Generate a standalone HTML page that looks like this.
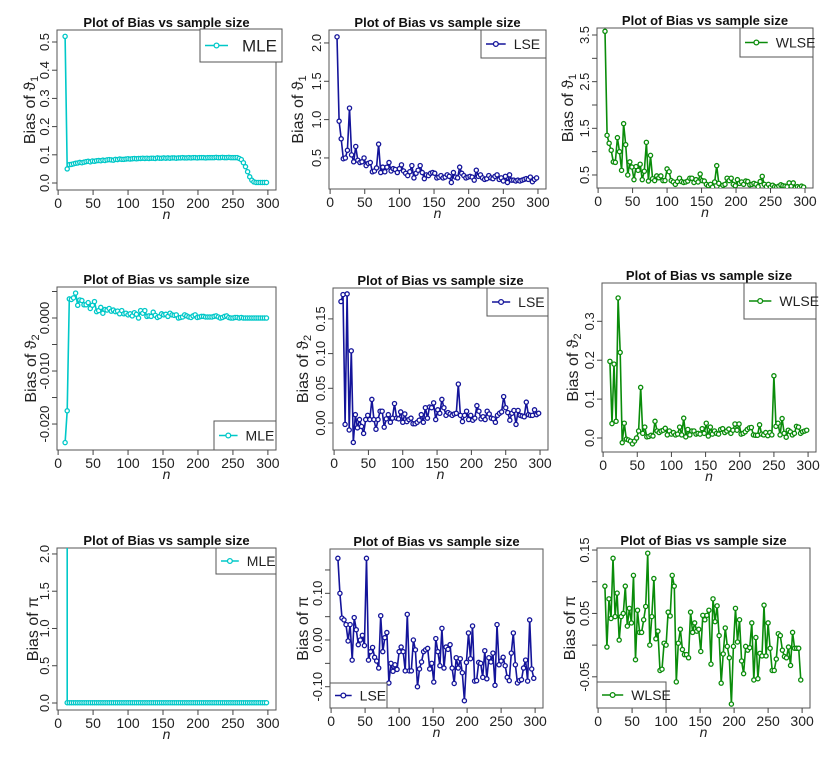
<!DOCTYPE html>
<html><head><meta charset="utf-8"><style>
html,body{margin:0;padding:0;background:#fff;}
svg{display:block;font-family:"Liberation Sans",sans-serif;}
</style></head><body>
<svg id="fig" width="840" height="758" viewBox="0 0 840 758"></svg>
<script>
const sampleSizes=[10,13,16,19,22,25,28,31,34,37,
40,43,46,49,52,55,58,61,64,67,
70,73,76,79,82,85,88,91,94,97,
100,103,106,109,112,115,118,121,124,127,
130,133,136,139,142,145,148,151,154,157,
160,163,166,169,172,175,178,181,184,187,
190,193,196,199,202,205,208,211,214,217,
220,223,226,229,232,235,238,241,244,247,
250,253,256,259,262,265,268,271,274,277,
280,283,286,289,292,295,298];
const mleTheta1=[.52,.05,.065,.066,.068,.07,.071,.073,.072,.074,
.076,.077,.075,.078,.077,.079,.08,.079,.081,.08,
.082,.083,.082,.081,.084,.083,.085,.084,.084,.085,
.086,.085,.086,.087,.086,.087,.087,.088,.087,.088,
.087,.088,.088,.087,.089,.088,.088,.089,.088,.089,
.088,.089,.089,.088,.089,.089,.09,.089,.089,.09,
.089,.09,.09,.089,.09,.09,.09,.089,.09,.09,
.09,.09,.091,.09,.09,.091,.09,.09,.091,.09,
.09,.09,.09,.087,.083,.072,.058,.04,.022,.01,
.004,.002,.002,.002,.002,.002,.002];
const lseTheta1=[2.08,.98,.75,.49,.5,.6,1.15,.54,.45,.65,
.47,.44,.45,.5,.4,.43,.44,.32,.33,.37,
.68,.31,.38,.32,.38,.44,.33,.36,.35,.31,
.36,.41,.33,.3,.27,.32,.4,.24,.3,.34,
.4,.31,.23,.28,.27,.3,.31,.3,.24,.25,
.27,.24,.25,.28,.26,.18,.31,.25,.24,.38,
.3,.27,.24,.25,.26,.25,.21,.34,.26,.28,
.24,.22,.23,.27,.24,.23,.26,.28,.22,.24,
.2,.26,.18,.28,.21,.21,.2,.21,.2,.21,
.22,.23,.22,.25,.19,.22,.24];
const wlseTheta1=[3.58,1.35,1.18,1.03,.78,.77,1.3,1.0,.6,1.6,
1.15,.5,.78,.67,.4,.68,.6,.73,.4,.58,
1.2,.37,.92,.42,.38,.48,.44,.48,.38,.38,
.63,.57,.38,.35,.3,.36,.43,.36,.34,.35,
.37,.43,.43,.34,.4,.35,.52,.38,.37,.3,
.27,.3,.24,.35,.7,.32,.23,.28,.3,.43,
.38,.43,.3,.27,.4,.32,.35,.3,.37,.36,
.29,.3,.32,.3,.25,.36,.47,.3,.25,.3,
.24,.28,.25,.24,.26,.29,.27,.26,.25,.33,
.26,.33,.23,.25,.23,.26,.24];
const mleTheta2=[-.0235,-.0175,.0036,.0035,.0038,.0047,.0024,.0034,.0033,.0025,
.0025,.0029,.0018,.0024,.0031,.0012,.0014,.002,.0009,.0016,
.0015,.0018,.0013,.0015,.0012,.0013,.0008,.0014,.0008,.0009,
.0006,.0008,.0004,.001,.0007,.0,.0014,.0009,.0014,.0003,
.0004,.0003,.0011,.0005,.0001,.0003,.0008,.0006,.0007,.0003,
.0009,.0006,.0005,.0006,.0,.0001,.0002,.0006,.0004,.0002,
.0001,.0004,.0006,.0001,.0002,.0003,.0003,.0002,.0002,.0002,
.0002,.0003,.0004,.0002,.0,.0001,.0003,.0004,.0001,.0,
.0,.0001,.0001,.0,.0001,.0,.0,.0,.0,.0,
.0,.0,.0,.0,.0,.0,.0];
const lseTheta2=[.175,.185,-.002,.186,-.01,.104,-.028,.012,-.007,.005,
-.005,-.015,.005,.011,.005,.034,.005,-.009,.005,.017,
.017,-.006,.006,.012,.001,.007,.028,.007,.006,.016,
.001,.013,.002,.005,.007,-.001,-.001,.001,.004,.012,
.001,.022,.007,.023,.022,.029,.005,.019,.014,.034,
.022,.011,.015,.013,.011,.013,.014,.056,.011,.002,
.011,.017,.005,.011,.004,.007,.025,.017,.006,.009,
.005,.017,.013,.007,.006,.001,.011,.014,.016,.038,
.022,.015,.004,.014,.018,-.002,.018,.011,.01,.009,
.03,.012,.011,.011,.019,.012,.014];
const wlseTheta2=[.197,.037,.19,.043,.36,.22,-.012,.038,-.003,-.005,
-.008,-.015,-.008,.0,.018,.13,.012,.028,.003,.004,
.007,.005,.043,.018,.014,.018,.02,.025,.008,.018,
.01,.014,.008,.01,.028,.008,.051,.003,.022,.008,
.018,.018,.01,.012,.01,.024,.012,.038,.005,.028,
.01,.018,.012,.01,.022,.024,.014,.018,.023,.012,
.02,.036,.02,.036,.01,.012,.016,.022,.026,.027,
.008,.007,.007,.034,.01,.008,.014,.006,.014,.008,
.16,.03,.038,.008,.05,.012,.002,.02,.016,.008,
.012,.03,.028,.012,.016,.018,.02];
const mlePi=[500,.004,.004,.004,.004,.004,.004,.004,.004,.004,
.004,.004,.004,.004,.004,.004,.004,.004,.004,.004,
.004,.004,.004,.004,.004,.004,.004,.004,.004,.004,
.004,.004,.004,.004,.004,.004,.004,.004,.004,.004,
.004,.004,.004,.004,.004,.004,.004,.004,.004,.004,
.004,.004,.004,.004,.004,.004,.004,.004,.004,.004,
.004,.004,.004,.004,.004,.004,.004,.004,.004,.004,
.004,.004,.004,.004,.004,.004,.004,.004,.004,.004,
.004,.004,.004,.004,.004,.004,.004,.004,.004,.004,
.004,.004,.004,.004,.004,.004,.004];
const lsePi=[.175,.1,.047,.043,.033,-.002,.033,-.043,.048,.022,
-.01,.0,.01,-.012,.175,-.043,-.025,-.016,-.037,-.045,
-.06,.052,-.025,.005,.016,-.092,-.05,-.067,-.053,-.063,
-.025,-.015,-.025,-.066,.055,-.066,-.066,.0,-.021,-.1,
-.062,-.047,-.025,-.021,-.018,-.062,-.05,-.09,.003,-.025,
-.055,.025,-.06,-.015,-.02,-.01,-.06,-.093,-.038,-.06,
-.04,-.07,-.13,-.048,.015,-.04,.03,-.088,-.087,-.048,
-.05,-.08,-.023,-.083,-.038,-.047,-.028,-.097,.033,-.053,
-.045,-.037,-.055,-.08,-.087,-.028,.015,-.053,-.092,-.087,
-.085,-.06,-.043,-.088,.043,-.062,-.082];
const wlsePi=[.093,-.003,.073,.042,.137,.045,.082,.008,.045,.05,
.093,.03,.058,.035,.11,-.023,.055,.02,.02,.04,
.061,.145,.0,.045,.105,.01,.022,-.04,-.038,.003,
.0,.052,.046,.11,.093,-.058,.003,.025,-.007,-.015,
-.015,-.02,.052,.02,.035,.022,.025,-.01,.047,.04,
.047,.055,-.03,.073,.037,.062,.015,-.06,-.014,.027,
-.002,-.02,-.093,-.002,.058,.005,.04,-.025,-.045,-.002,
-.008,-.004,.035,-.055,.012,-.053,-.013,-.017,.063,-.017,
.035,-.005,-.04,-.04,-.022,.018,.015,-.008,-.018,-.02,
-.003,-.032,.02,-.005,-.005,-.005,-.055];
const xTicks=[0,50,100,150,200,250,300];

const CY="#00c8c8",BL="#14149a",GR="#0a8c0a";
const panels=[
 {id:"mle-theta1",series:mleTheta1,col:CY,l:57,r:276,t:30,b:190,y0:-0.0248,y1:0.5426,yt:[0,.1,.2,.3,.4,.5],yl:["0.0","0.1","0.2","0.3","0.4","0.5"],sub:"1",sym:"ϑ",ytx:32,leg:[200,29,282,62],lab:"MLE",fs:17},
 {id:"lse-theta1",series:lseTheta1,col:BL,l:329,r:546,t:30,b:189,y0:0.095,y1:2.169,yt:[.5,1,1.5,2],yl:["0.5","1.0","1.5","2.0"],sub:"1",sym:"ϑ",ytx:300,leg:[481,30,546,58],lab:"LSE",fs:14},
 {id:"wlse-theta1",series:wlseTheta1,col:GR,l:597,r:813,t:28,b:188,y0:0.221,y1:3.65,yt:[.5,1,1.5,2,2.5,3,3.5],yl:["0.5","","1.5","","2.5","","3.5"],sub:"1",sym:"ϑ",ytx:570,leg:[740,28,813,57],lab:"WLSE",fs:14},
 {id:"mle-theta2",series:mleTheta2,col:CY,l:57,r:276,t:287,b:450,y0:-0.0249,y1:0.00585,yt:[-.02,-.015,-.01,-.005,0,.005],yl:["-0.020","","-0.010","","0.000",""],sub:"2",sym:"ϑ",ytx:33,leg:[214,421,276,450],lab:"MLE",fs:14},
 {id:"lse-theta2",series:lseTheta2,col:BL,l:333,r:548,t:288,b:450,y0:-0.0389,y1:0.1945,yt:[0,.05,.1,.15],yl:["0.00","0.05","0.10","0.15"],sub:"2",sym:"ϑ",ytx:305,leg:[487,288,548,316],lab:"LSE",fs:14},
 {id:"wlse-theta2",series:wlseTheta2,col:GR,l:602,r:816,t:283,b:452,y0:-0.036,y1:0.3985,yt:[0,.1,.2,.3],yl:["0.0","0.1","0.2","0.3"],sub:"2",sym:"ϑ",ytx:575,leg:[744,283,816,319],lab:"WLSE",fs:14},
 {id:"mle-pi",series:mlePi,col:CY,l:57,r:276,t:548,b:710,y0:-0.094,y1:2.08,yt:[0,.5,1,1.5,2],yl:["0.0","0.5","1.0","1.5","2.0"],sub:"",sym:"π",ytx:35,leg:[216,548,276,574],lab:"MLE",fs:14},
 {id:"lse-pi",series:lsePi,col:BL,l:330,r:543,t:549,b:708,y0:-0.1456,y1:0.1949,yt:[-.1,-.05,0,.05,.1,.15],yl:["-0.10","","0.00","","0.10",""],sub:"",sym:"π",ytx:305,leg:[330,683,387,708],lab:"LSE",fs:14},
 {id:"wlse-pi",series:wlsePi,col:GR,l:597,r:810,t:548,b:708,y0:-0.0992,y1:0.1532,yt:[-.05,0,.05,.1,.15],yl:["-0.05","","0.05","","0.15"],sub:"",sym:"π",ytx:572,leg:[597,682,666,708],lab:"WLSE",fs:14}
];
const NS="http://www.w3.org/2000/svg";
const svg=document.getElementById("fig");
function mk(tag,attrs,parent){const e=document.createElementNS(NS,tag);for(const k in attrs)e.setAttribute(k,attrs[k]);(parent||svg).appendChild(e);return e;}
panels.forEach((p,pi)=>{
  const g=mk("g",{});
  
  
  const xs=v=>p.l+(v+1.6)/313.2*(p.r-p.l);
  const ys=v=>p.b-(v-p.y0)/(p.y1-p.y0)*(p.b-p.t);
  const cp=mk("clipPath",{id:"cp"+pi},g);
  mk("rect",{x:p.l,y:p.t,width:p.r-p.l,height:p.b-p.t},cp);
  const title=mk("text",{x:(p.l+p.r)/2,y:p.t-3,"text-anchor":"middle","font-size":"13","font-weight":"bold",fill:"#111"},g);
  title.textContent="Plot of Bias vs sample size";
  
  
  const fr=mk("rect",{x:p.l,y:p.t,width:p.r-p.l,height:p.b-p.t,fill:"none",stroke:"#555","stroke-width":"1"},g);
  
  
  const xa=mk("g",{},g);
  
  
  xTicks.forEach(t=>{
    const x=xs(t);
    mk("line",{x1:x,x2:x,y1:p.b,y2:p.b+5,stroke:"#444"},xa);
    const tx=mk("text",{x:x,y:p.b+18,"text-anchor":"middle","font-size":"14",fill:"#222"},xa);
    tx.textContent=t;
    
    
  });
  const xt=mk("text",{x:(p.l+p.r)/2,y:p.b+29,"text-anchor":"middle","font-size":"14","font-style":"italic",fill:"#222"},g);
  xt.textContent="n";
  
  
  const ya=mk("g",{},g);
  
  
  p.yt.forEach((t,i)=>{
    const y=ys(t);
    mk("line",{x1:p.l-5,x2:p.l,y1:y,y2:y,stroke:"#444"},ya);
    if(p.yl[i]){
      const tx=mk("text",{x:p.l-8,y:y,"text-anchor":"middle","font-size":"13",fill:"#222",transform:`rotate(-90 ${p.l-8} ${y})`},ya);
      tx.textContent=p.yl[i];
      
      
    }
  });
  const cy=(p.t+p.b)/2;
  const yt=mk("text",{x:p.ytx+3,y:cy,"text-anchor":"middle","font-size":"16",fill:"#222",transform:`rotate(-90 ${p.ytx+3} ${cy})`},g);
  
  
  yt.appendChild(document.createTextNode("Bias of "+p.sym));
  if(p.sub){const s=mk("tspan",{"font-size":"11",dy:"3"},yt);s.textContent=p.sub;}
  const dg=mk("g",{"clip-path":`url(#cp${pi})`},g);
  
  
  const n=Math.min(sampleSizes.length,p.series.length);
  let d="";
  for(let i=0;i<n;i++){d+=(i?"L":"M")+xs(sampleSizes[i]).toFixed(1)+","+ys(p.series[i]).toFixed(1);}
  const ln=mk("path",{d:d,fill:"none",stroke:p.col,"stroke-width":"1.6"},dg);
  
  
  for(let i=0;i<n;i++){
    const c=mk("circle",{cx:xs(sampleSizes[i]),cy:ys(p.series[i]),r:"2.1",fill:"#fff",stroke:p.col,"stroke-width":"1.3"},dg);
    
    
  }
  const L=p.leg;
  const lg=mk("g",{},g);
  
  
  mk("rect",{x:L[0],y:L[1],width:L[2]-L[0],height:L[3]-L[1],fill:"#fff",stroke:"#555"},lg);
  const my=(L[1]+L[3])/2, w=L[2]-L[0];
  const sx1=L[0]+5, sx2=L[0]+Math.min(28,w*0.38);
  mk("line",{x1:sx1,x2:sx2,y1:my,y2:my,stroke:p.col,"stroke-width":"1.6"},lg);
  mk("circle",{cx:(sx1+sx2)/2,cy:my,r:"2.4",fill:"#fff",stroke:p.col,"stroke-width":"1.3"},lg);
  const lt=mk("text",{x:sx2+(p.fs>15?14:8),y:my+p.fs*0.36,"font-size":p.fs,fill:"#222"},lg);
  lt.textContent=p.lab;
  
  
});
</script>
</body></html>
